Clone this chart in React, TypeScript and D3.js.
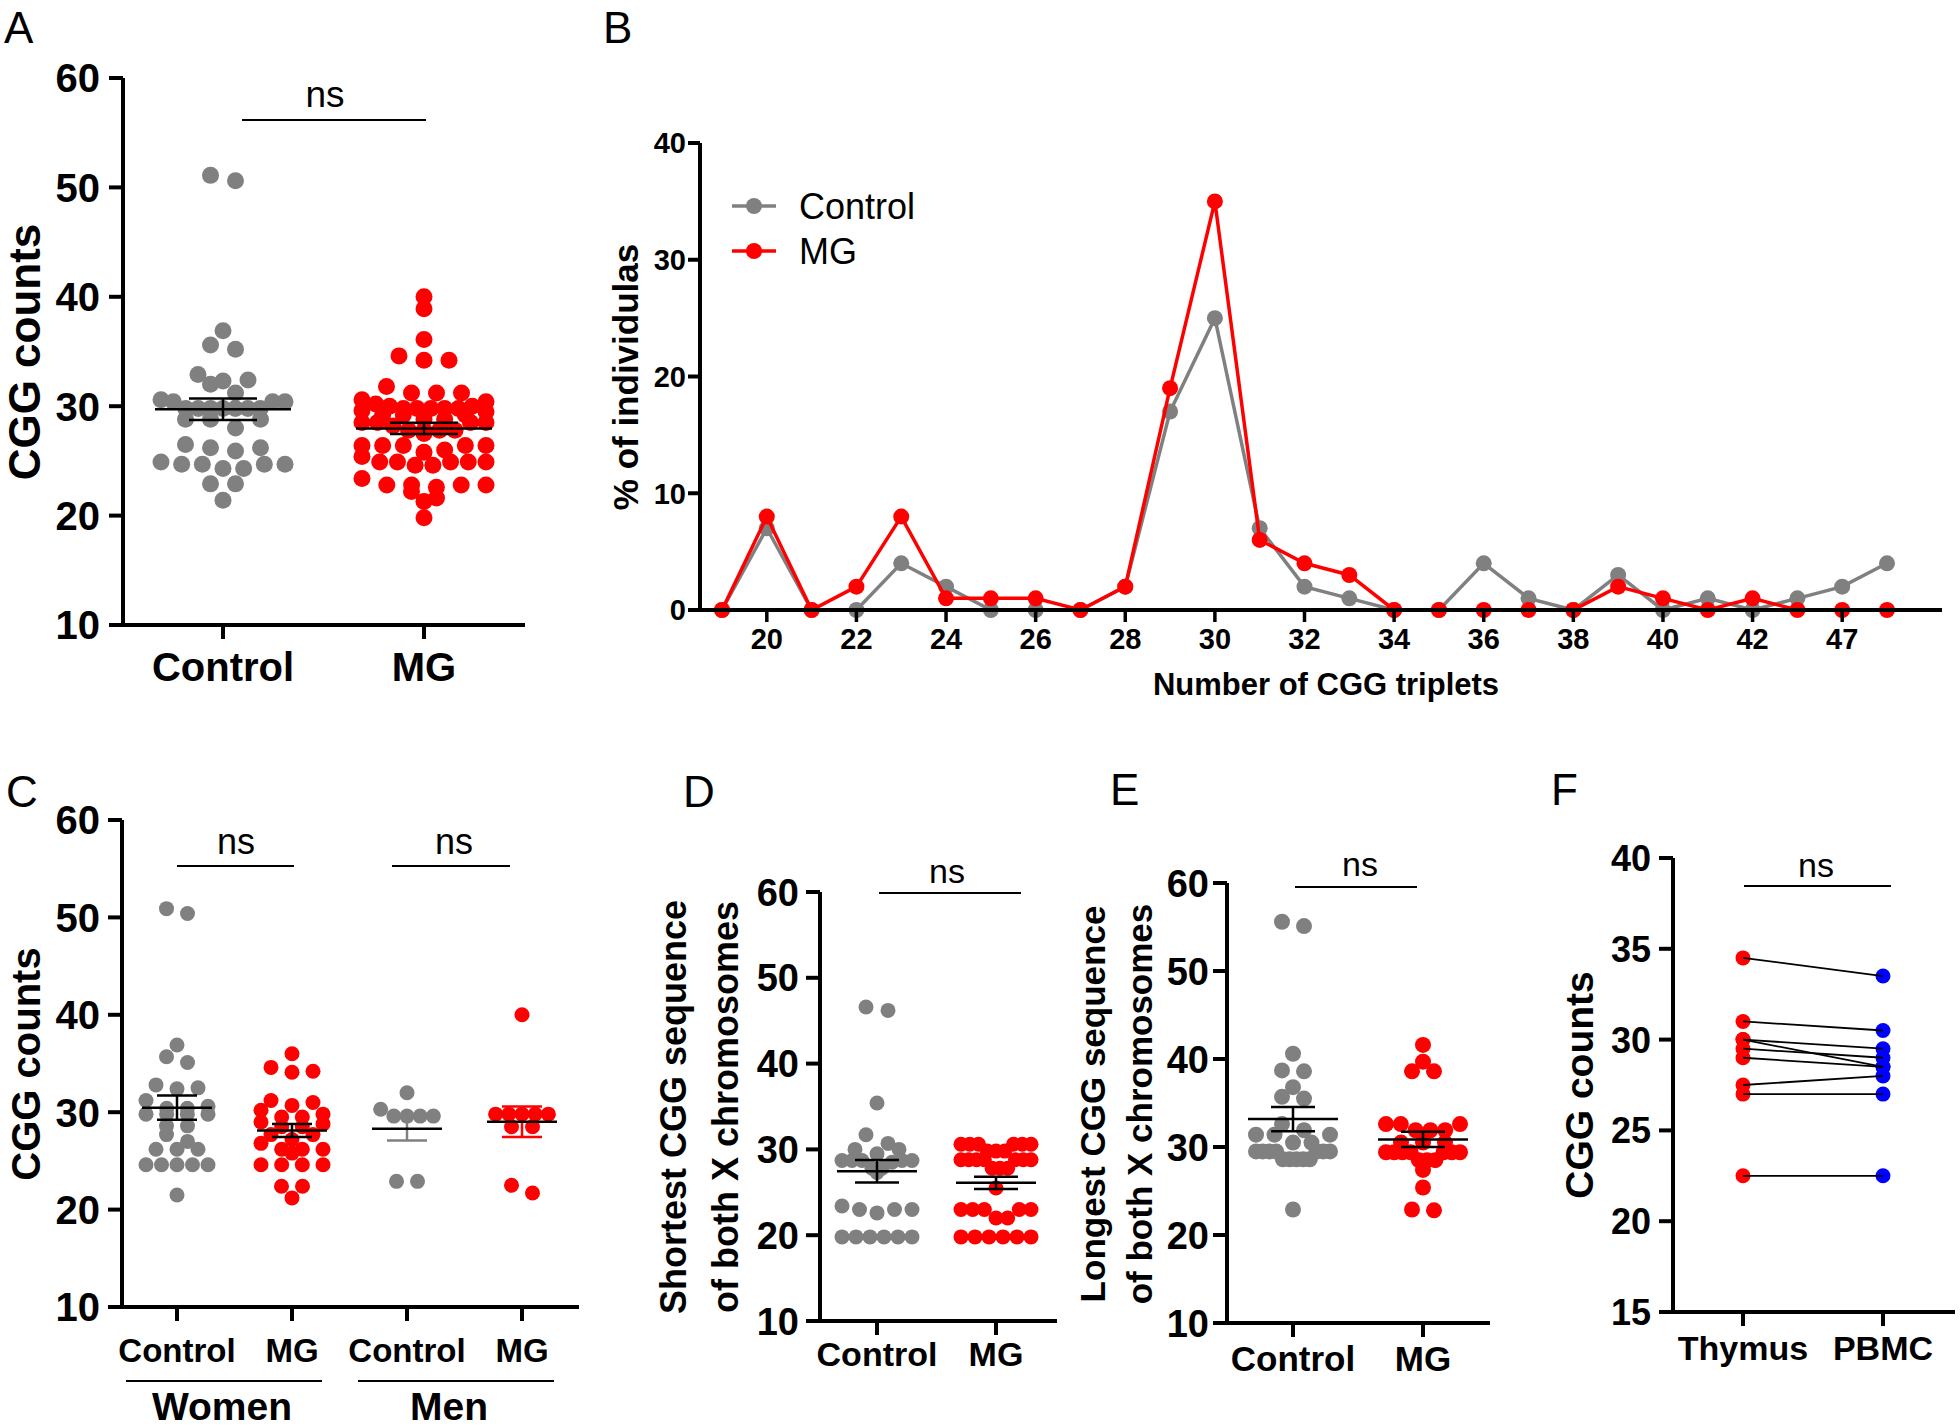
import React from "react";
import * as d3 from "d3";

const FONT = "'Liberation Sans', Arial, Helvetica, sans-serif";
const GRAY = "#808080";
const RED = "#ff0000";
const BLUE = "#0000ff";

// ---------- Panel A ----------
const aCategories = ["Control", "MG"];
const aControl = [51.1, 50.6, 36.9, 35.6, 35.2, 32.9, 32.4, 32.3, 32.0, 31.2, 30.6, 30.4, 30.4, 30.4, 29.8, 29.8, 29.8, 29.8, 29.8, 29.8, 29.8, 28.8, 28.8, 28.8, 28.0, 26.5, 26.2, 26.2, 25.9, 24.9, 24.7, 24.7, 24.7, 24.7, 24.3, 24.3, 22.9, 22.9, 21.4];
const aMG = [40.0, 38.9, 36.1, 34.6, 34.2, 34.2, 31.8, 31.2, 31.2, 31.2, 30.6, 30.4, 30.2, 30.0, 30.0, 29.8, 29.8, 29.8, 29.8, 29.8, 29.6, 29.5, 29.2, 29.2, 29.2, 28.8, 28.8, 28.5, 28.5, 28.5, 28.5, 28.2, 27.8, 27.8, 27.8, 27.8, 27.5, 26.4, 26.4, 26.4, 26.4, 26.4, 26.0, 25.8, 25.4, 24.9, 24.9, 24.9, 24.9, 24.9, 24.6, 24.6, 23.4, 22.8, 22.8, 22.8, 22.8, 22.6, 22.2, 21.6, 21.3, 19.8];

// ---------- Panel B ----------
const bCategories = ["19", "20", "21", "22", "23", "24", "25", "26", "27", "28", "29", "30", "31", "32", "33", "34", "35", "36", "37", "38", "39", "40", "41", "42", "44", "47", "49"];
const bTickLabels = ["20", "22", "24", "26", "28", "30", "32", "34", "36", "38", "40", "42", "47"];
const bControl = [0, 7, 0, 0, 4, 2, 0, 0, 0, 2, 17, 25, 7, 2, 1, 0, 0, 4, 1, 0, 3, 0, 1, 0, 1, 2, 4];
const bMG = [0, 8, 0, 2, 8, 1, 1, 1, 0, 2, 19, 35, 6, 4, 3, 0, 0, 0, 0, 0, 2, 1, 0, 1, 0, 0, 0];
const bYTicks = [0, 10, 20, 30, 40];

// ---------- Panel C ----------
const cCategories = ["Women Control", "Women MG", "Men Control", "Men MG"];
const cLabels = ["Control", "MG", "Control", "MG"];
const cWomenControl = [50.9, 50.4, 36.9, 35.7, 35.1, 32.8, 32.5, 32.4, 31.2, 30.6, 30.4, 30.4, 29.8, 29.8, 29.8, 29.8, 28.6, 28.6, 27.7, 27.0, 26.2, 26.2, 26.2, 24.6, 24.6, 24.6, 24.6, 24.6, 21.5];
const cWomenMG = [36.0, 34.6, 34.2, 34.1, 31.2, 31.0, 30.7, 30.2, 29.8, 29.5, 29.5, 29.0, 28.8, 28.5, 28.5, 27.7, 27.7, 27.2, 26.8, 26.2, 26.2, 26.2, 25.8, 24.6, 24.6, 24.6, 24.6, 22.4, 22.4, 21.2];
const cMenControl = [32.0, 30.3, 29.6, 29.6, 29.6, 29.6, 22.9, 22.9];
const cMenMG = [40.0, 29.8, 29.8, 29.8, 29.8, 29.8, 28.5, 28.5, 22.5, 21.7];

// ---------- Panel D ----------
const dCategories = ["Control", "MG"];
const dControl = [46.6, 46.2, 35.4, 31.7, 30.7, 30.0, 30.0, 29.5, 28.7, 28.7, 28.7, 28.7, 28.7, 28.5, 27.8, 27.8, 27.3, 23.4, 23.0, 23.0, 23.0, 22.6, 19.8, 19.8, 19.8, 19.8, 19.8, 19.8];
const dMG = [30.6, 30.6, 30.6, 30.6, 30.6, 30.6, 29.8, 29.8, 29.8, 28.8, 28.8, 28.8, 28.8, 28.8, 28.8, 28.8, 27.8, 27.8, 27.8, 25.5, 23.0, 23.0, 23.0, 23.0, 23.0, 22.0, 22.0, 19.8, 19.8, 19.8, 19.8, 19.8, 19.8];

// ---------- Panel E ----------
const eCategories = ["Control", "MG"];
const eControl = [55.6, 55.1, 40.6, 38.7, 38.6, 36.8, 35.7, 35.5, 32.6, 31.9, 31.4, 31.4, 31.4, 30.5, 30.5, 29.5, 29.5, 29.5, 29.5, 29.5, 29.5, 29.5, 28.6, 28.6, 28.6, 28.6, 28.6, 22.9];
const eMG = [41.6, 39.7, 38.6, 38.6, 32.6, 32.6, 32.6, 31.9, 31.9, 31.9, 30.5, 30.5, 30.5, 29.4, 29.4, 29.4, 29.4, 29.4, 29.4, 29.4, 28.5, 28.5, 28.5, 27.4, 25.4, 22.8, 22.9];

// ---------- Panel F ----------
const fCategories = ["Thymus", "PBMC"];
const fThymus = [34.5, 31.0, 30.0, 30.0, 29.5, 29.0, 27.5, 27.0, 22.5];
const fPBMC = [33.5, 30.5, 29.5, 28.5, 29.0, 28.5, 28.0, 27.0, 22.5];

// ---------- helpers ----------
// GraphPad-like scatter: points close in value share a row and are spread symmetrically.
function rowSpread(values: number[], y: (v: number) => number, rowH: number, spacing: number, maxW: number) {
  const pts = values.map((v) => ({ v, y: y(v), dx: 0 })).sort((a, b) => a.y - b.y);
  const rows: (typeof pts)[] = [];
  let cur: typeof pts = [];
  let start = -Infinity;
  for (const p of pts) {
    if (p.y - start < rowH) cur.push(p);
    else {
      if (cur.length) rows.push(cur);
      cur = [p];
      start = p.y;
    }
  }
  if (cur.length) rows.push(cur);
  for (const row of rows) {
    const n = row.length;
    const s = n > 1 ? Math.min(spacing, maxW / (n - 1)) : 0;
    row.forEach((p, i) => {
      const slot = i % 2 === 0 ? i / 2 : n - 1 - (i - 1) / 2;
      p.dx = (slot - (n - 1) / 2) * s;
    });
  }
  return pts;
}

type Group = { cat: string; values: number[]; color: string; errColor?: string };

function RotLabel({ x, y, lines, size, gap = 0 }: { x: number; y: number; lines: string[]; size: number; gap?: number }) {
  return (
    <g>
      {lines.map((l, i) => (
        <text key={i} transform={`translate(${x + i * gap},${y}) rotate(-90)`} textAnchor="middle" fontFamily={FONT} fontWeight="bold" fontSize={size}>
          {l}
        </text>
      ))}
    </g>
  );
}

function YAxis({ y, ticks, axisX, tickLen, font, labelRight }: any) {
  const [y0, y1] = y.range();
  return (
    <g>
      <line x1={axisX} x2={axisX} y1={y0 + 2} y2={y1} stroke="#000" strokeWidth={4} />
      {ticks.map((t: number) => (
        <g key={t}>
          <line x1={axisX - tickLen} x2={axisX} y1={y(t)} y2={y(t)} stroke="#000" strokeWidth={4} />
          <text x={labelRight} y={y(t)} dy="0.36em" textAnchor="end" fontFamily={FONT} fontWeight="bold" fontSize={font}>
            {t}
          </text>
        </g>
      ))}
    </g>
  );
}

function DotPanel(props: any) {
  const { y, x, axisX, axisEnd, yTicks, tickFont, labelRight, labels, labelBaseline, labelFont, groups, r, meanHalf, capHalf, spacing, maxW, tickLen = 14 } = props;
  const yb = y.range()[0];
  return (
    <g>
      {groups.map((g: Group) =>
        rowSpread(g.values, y, r * 1.15, spacing, g.cat.includes("Men") ? maxW * 0.85 : maxW).map((p, i) => (
          <circle key={g.cat + i} cx={x(g.cat) + p.dx} cy={p.y} r={r} fill={g.color} />
        ))
      )}
      {groups.map((g: Group) => {
        const m = d3.mean(g.values) as number;
        const s = (d3.deviation(g.values) as number) / Math.sqrt(g.values.length);
        const cx = x(g.cat);
        const ec = g.errColor || "#000";
        return (
          <g key={"e" + g.cat}>
            <line x1={cx} x2={cx} y1={y(m - s)} y2={y(m + s)} stroke={ec} strokeWidth={2.5} />
            <line x1={cx - capHalf} x2={cx + capHalf} y1={y(m - s)} y2={y(m - s)} stroke={ec} strokeWidth={2.5} />
            <line x1={cx - capHalf} x2={cx + capHalf} y1={y(m + s)} y2={y(m + s)} stroke={ec} strokeWidth={2.5} />
            <line x1={cx - meanHalf} x2={cx + meanHalf} y1={y(m)} y2={y(m)} stroke="#000" strokeWidth={2.5} />
          </g>
        );
      })}
      <YAxis y={y} ticks={yTicks} axisX={axisX} tickLen={tickLen} font={tickFont} labelRight={labelRight} />
      <line x1={axisX - tickLen} x2={axisEnd} y1={yb} y2={yb} stroke="#000" strokeWidth={4} />
      {x.domain().map((c: string, i: number) => (
        <g key={c}>
          <line x1={x(c)} x2={x(c)} y1={yb} y2={yb + tickLen} stroke="#000" strokeWidth={4} />
          <text x={x(c)} y={labelBaseline} textAnchor="middle" fontFamily={FONT} fontWeight="bold" fontSize={labelFont}>
            {labels[i]}
          </text>
        </g>
      ))}
    </g>
  );
}

function NS({ x1, x2, y, tx, ty, size }: any) {
  return (
    <g>
      <line x1={x1} x2={x2} y1={y} y2={y} stroke="#000" strokeWidth={2} />
      <text x={tx} y={ty} textAnchor="middle" fontFamily={FONT} fontSize={size}>
        ns
      </text>
    </g>
  );
}

function Letter({ x, y, t }: any) {
  return (
    <text x={x} y={y} fontFamily={FONT} fontSize={44}>
      {t}
    </text>
  );
}

export default function App() {
  const yA = d3.scaleLinear().domain([10, 60]).range([625, 78]);
  const xA = d3.scalePoint().domain(aCategories).range([223, 424]);
  const yB = d3.scaleLinear().domain([0, 40]).range([610, 143]);
  const xB = d3.scalePoint().domain(bCategories).range([722, 1887]);
  const lineB = d3
    .line<number>()
    .x((_, i) => xB(bCategories[i]) as number)
    .y((d) => yB(d));
  const yC = d3.scaleLinear().domain([10, 60]).range([1307, 820]);
  const xC = d3.scalePoint().domain(cCategories).range([177, 522]);
  const yD = d3.scaleLinear().domain([10, 60]).range([1321, 892]);
  const xD = d3.scalePoint().domain(dCategories).range([877, 996]);
  const yE = d3.scaleLinear().domain([10, 60]).range([1323, 883]);
  const xE = d3.scalePoint().domain(eCategories).range([1293, 1423]);
  const yF = d3.scaleLinear().domain([15, 40]).range([1312, 858]);
  const xF = d3.scalePoint().domain(fCategories).range([1743, 1883]);

  return (
    <svg width={1960} height={1428} style={{ position: "absolute", left: 0, top: 0, background: "#fff" }}>
      <rect width={1960} height={1428} fill="#fff" />

      {/* Panel A */}
      <Letter x={4} y={43} t="A" />
      <DotPanel
        y={yA}
        x={xA}
        axisX={123}
        axisEnd={525}
        yTicks={yA.ticks(5)}
        tickFont={40}
        labelRight={100}
        labels={aCategories}
        labelBaseline={681}
        labelFont={40}
        r={8.5}
        spacing={25}
        maxW={124}
        meanHalf={68}
        capHalf={34}
        groups={[
          { cat: "Control", values: aControl, color: GRAY },
          { cat: "MG", values: aMG, color: RED },
        ]}
      />
      <RotLabel x={40} y={352} lines={["CGG counts"]} size={44} />
      <NS x1={242} x2={426} y={120} tx={325} ty={107} size={37} />

      {/* Panel B */}
      <Letter x={603} y={43} t="B" />
      <path d={lineB(bControl) as string} fill="none" stroke={GRAY} strokeWidth={3.5} />
      {bControl.map((d, i) => (
        <circle key={"bc" + i} cx={xB(bCategories[i])} cy={yB(d)} r={8} fill={GRAY} />
      ))}
      <path d={lineB(bMG) as string} fill="none" stroke={RED} strokeWidth={3.5} />
      {bMG.map((d, i) => (
        <circle key={"bm" + i} cx={xB(bCategories[i])} cy={yB(d)} r={8} fill={RED} />
      ))}
      <YAxis y={yB} ticks={bYTicks} axisX={700} tickLen={12} font={29} labelRight={686} />
      <line x1={688} x2={1942} y1={610} y2={610} stroke="#000" strokeWidth={4} />
      {bTickLabels.map((t) => (
        <g key={"bt" + t}>
          <line x1={xB(t)} x2={xB(t)} y1={610} y2={622} stroke="#000" strokeWidth={3.5} />
          <text x={xB(t)} y={649} textAnchor="middle" fontFamily={FONT} fontWeight="bold" fontSize={29}>
            {t}
          </text>
        </g>
      ))}
      <RotLabel x={638} y={377} lines={["% of individulas"]} size={35} />
      <text x={1326} y={695} textAnchor="middle" fontFamily={FONT} fontWeight="bold" fontSize={31}>
        Number of CGG triplets
      </text>
      <line x1={732} x2={776} y1={206} y2={206} stroke={GRAY} strokeWidth={3.5} />
      <circle cx={754} cy={206} r={8} fill={GRAY} />
      <text x={799} y={219} fontFamily={FONT} fontSize={36}>
        Control
      </text>
      <line x1={732} x2={776} y1={251} y2={251} stroke={RED} strokeWidth={3.5} />
      <circle cx={754} cy={251} r={8} fill={RED} />
      <text x={799} y={264} fontFamily={FONT} fontSize={36}>
        MG
      </text>

      {/* Panel C */}
      <Letter x={6} y={807} t="C" />
      <DotPanel
        y={yC}
        x={xC}
        axisX={122}
        axisEnd={579}
        yTicks={yC.ticks(5)}
        tickFont={40}
        labelRight={100}
        labels={cLabels}
        labelBaseline={1362}
        labelFont={33}
        r={7.5}
        spacing={21}
        maxW={62}
        meanHalf={35}
        capHalf={20}
        groups={[
          { cat: "Women Control", values: cWomenControl, color: GRAY },
          { cat: "Women MG", values: cWomenMG, color: RED },
          { cat: "Men Control", values: cMenControl, color: GRAY, errColor: GRAY },
          { cat: "Men MG", values: cMenMG, color: RED, errColor: RED },
        ]}
      />
      <RotLabel x={40} y={1064} lines={["CGG counts"]} size={40} />
      <NS x1={177} x2={294} y={866} tx={236} ty={854} size={36} />
      <NS x1={392} x2={510} y={866} tx={454} ty={854} size={36} />
      <line x1={126} x2={322} y1={1381} y2={1381} stroke="#000" strokeWidth={2} />
      <line x1={358} x2={554} y1={1381} y2={1381} stroke="#000" strokeWidth={2} />
      <text x={222} y={1420} textAnchor="middle" fontFamily={FONT} fontWeight="bold" fontSize={39}>
        Women
      </text>
      <text x={449} y={1420} textAnchor="middle" fontFamily={FONT} fontWeight="bold" fontSize={39}>
        Men
      </text>

      {/* Panel D */}
      <Letter x={683} y={807} t="D" />
      <DotPanel
        y={yD}
        x={xD}
        axisX={820}
        axisEnd={1057}
        yTicks={yD.ticks(5)}
        tickFont={38}
        labelRight={799}
        labels={dCategories}
        labelBaseline={1366}
        labelFont={34}
        r={7.5}
        spacing={22}
        maxW={70}
        meanHalf={40}
        capHalf={22}
        groups={[
          { cat: "Control", values: dControl, color: GRAY },
          { cat: "MG", values: dMG, color: RED },
        ]}
      />
      <RotLabel x={686} y={1107} lines={["Shortest CGG sequence", "of both X chromosomes"]} size={36} gap={52} />
      <NS x1={879} x2={1021} y={893} tx={947} ty={883} size={34} />

      {/* Panel E */}
      <Letter x={1110} y={805} t="E" />
      <DotPanel
        y={yE}
        x={xE}
        axisX={1227}
        axisEnd={1490}
        yTicks={yE.ticks(5)}
        tickFont={38}
        labelRight={1209}
        labels={eCategories}
        labelBaseline={1371}
        labelFont={35}
        r={8}
        spacing={22}
        maxW={74}
        meanHalf={45}
        capHalf={22}
        groups={[
          { cat: "Control", values: eControl, color: GRAY },
          { cat: "MG", values: eMG, color: RED },
        ]}
      />
      <RotLabel x={1105} y={1104} lines={["Longest CGG sequence", "of both X chromosomes"]} size={35} gap={47} />
      <NS x1={1295} x2={1417} y={887} tx={1360} ty={876} size={34} />

      {/* Panel F */}
      <Letter x={1551} y={805} t="F" />
      {fThymus.map((v, i) => (
        <circle key={"ft" + i} cx={xF("Thymus")} cy={yF(v)} r={7.5} fill={RED} />
      ))}
      {fPBMC.map((v, i) => (
        <circle key={"fp" + i} cx={xF("PBMC")} cy={yF(v)} r={7.5} fill={BLUE} />
      ))}
      {fThymus.map((v, i) => (
        <line key={"fl" + i} x1={xF("Thymus")} x2={xF("PBMC")} y1={yF(v)} y2={yF(fPBMC[i])} stroke="#000" strokeWidth={1.8} />
      ))}
      <YAxis y={yF} ticks={yF.ticks(5)} axisX={1673} tickLen={14} font={36} labelRight={1651} />
      <line x1={1659} x2={1955} y1={1312} y2={1312} stroke="#000" strokeWidth={4} />
      {fCategories.map((c) => (
        <g key={"fc" + c}>
          <line x1={xF(c)} x2={xF(c)} y1={1312} y2={1326} stroke="#000" strokeWidth={4} />
          <text x={xF(c)} y={1360} textAnchor="middle" fontFamily={FONT} fontWeight="bold" fontSize={34}>
            {c}
          </text>
        </g>
      ))}
      <RotLabel x={1593} y={1085} lines={["CGG counts"]} size={39} />
      <NS x1={1744} x2={1891} y={886} tx={1816} ty={877} size={34} />
    </svg>
  );
}
